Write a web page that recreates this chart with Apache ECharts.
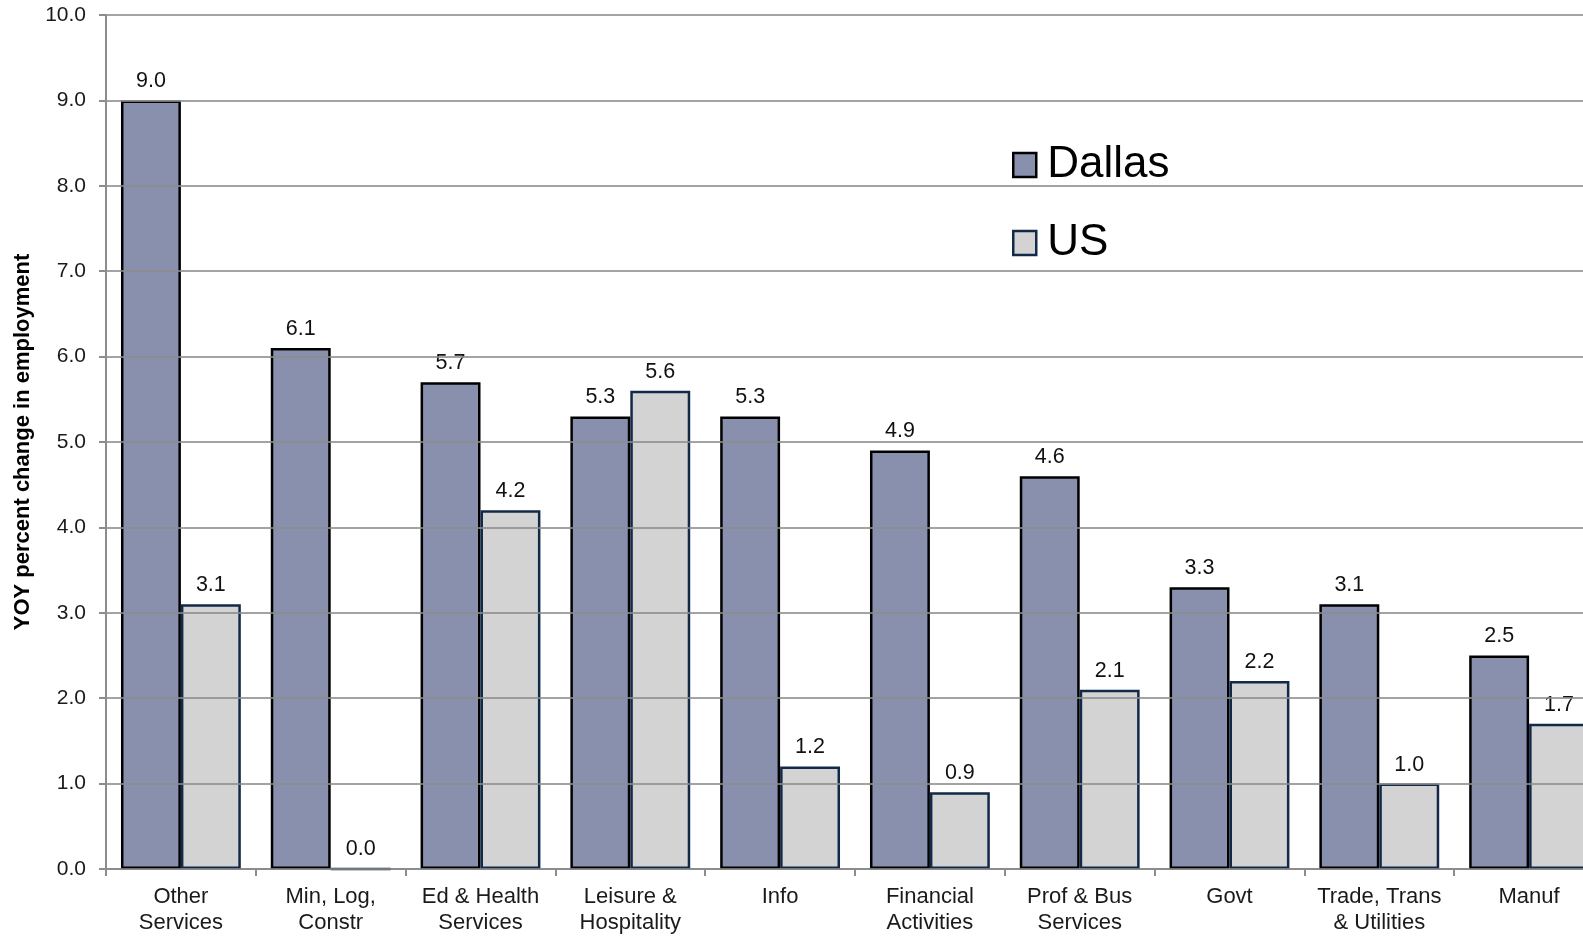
<!DOCTYPE html>
<html>
<head>
    <meta charset="UTF-8">
    <title>Dallas vs US employment</title>
    <script src="https://cdn.jsdelivr.net/npm/echarts@6/dist/echarts.min.js"></script>
    <style type="text/css">
      body{ margin:0; padding:0; background:#fff; overflow:hidden; }
      /* chart runs past the right edge of the window, like the cropped original */
      #chart{ width:1604px; height:936px; }
    </style>
</head>
<body>
<div id="chart"></div>
<script type="text/javascript">
    var categories=['Other\nServices','Min, Log,\nConstr','Ed & Health\nServices','Leisure &\nHospitality','Info','Financial\nActivities','Prof & Bus\nServices','Govt','Trade, Trans\n& Utilities','Manuf'];
    var dallas=[9.0,6.1,5.7,5.3,5.3,4.9,4.6,3.3,3.1,2.5];
    var us=[3.1,0.0,4.2,5.6,1.2,0.9,2.1,2.2,1.0,1.7];
    var yTicks={min:0,max:10,interval:1};

    var chart=echarts.init(document.getElementById('chart'));
    var font='Liberation Sans, Arial, sans-serif';

    var labelStyle={
        show:true,position:'top',distance:8,
        fontFamily:font,fontSize:21.5,color:'#111',
        formatter:function(p){return p.value.toFixed(1);}
    };

    var option={
        animation:false,
        grid:{left:106,top:15,bottom:66,right:0},
        legend:{
            orient:'vertical',left:1007,top:138,
            icon:'rect',itemWidth:23,itemHeight:24,itemGap:34,
            textStyle:{fontFamily:font,fontSize:44,color:'#000',padding:[0,0,0,6]},
            data:[
                {name:'Dallas',itemStyle:{borderColor:'#000',borderWidth:2.5}},
                {name:'US',itemStyle:{borderColor:'#12294a',borderWidth:2.5}}
            ]
        },
        xAxis:{
            type:'category',data:categories,
            axisLine:{lineStyle:{color:'#8c8c8c',width:2}},
            axisTick:{show:true,length:7,lineStyle:{color:'#8c8c8c',width:2}},
            axisLabel:{fontFamily:font,fontSize:22,color:'#1a1a1a',margin:15,lineHeight:26,interval:0}
        },
        yAxis:{
            type:'value',min:yTicks.min,max:yTicks.max,interval:yTicks.interval,z:10,
            name:'YOY percent change in employment',nameLocation:'middle',nameGap:69,
            nameTextStyle:{fontFamily:font,fontSize:22,fontWeight:'bold',color:'#000'},
            axisLine:{show:true,lineStyle:{color:'#8c8c8c',width:2}},
            axisTick:{show:true,length:7,lineStyle:{color:'#8c8c8c',width:2}},
            splitLine:{lineStyle:{color:'#8c8c8c',width:2,opacity:0.8}},
            axisLabel:{fontFamily:font,fontSize:21,color:'#1a1a1a',margin:20,
                formatter:function(v){return v.toFixed(1);}}
        },
        series:[
            {name:'Dallas',type:'bar',data:dallas,barGap:'0%',barCategoryGap:'20%',z:2,
             itemStyle:{color:'#8890ae',borderColor:'#000',borderWidth:2.5},label:labelStyle},
            {name:'US',type:'bar',data:us,z:2,
             itemStyle:{color:'#d3d3d3',borderColor:'#12294a',borderWidth:2.5},label:labelStyle}
        ]
    };
    chart.setOption(option);
</script>
</body>
</html>
